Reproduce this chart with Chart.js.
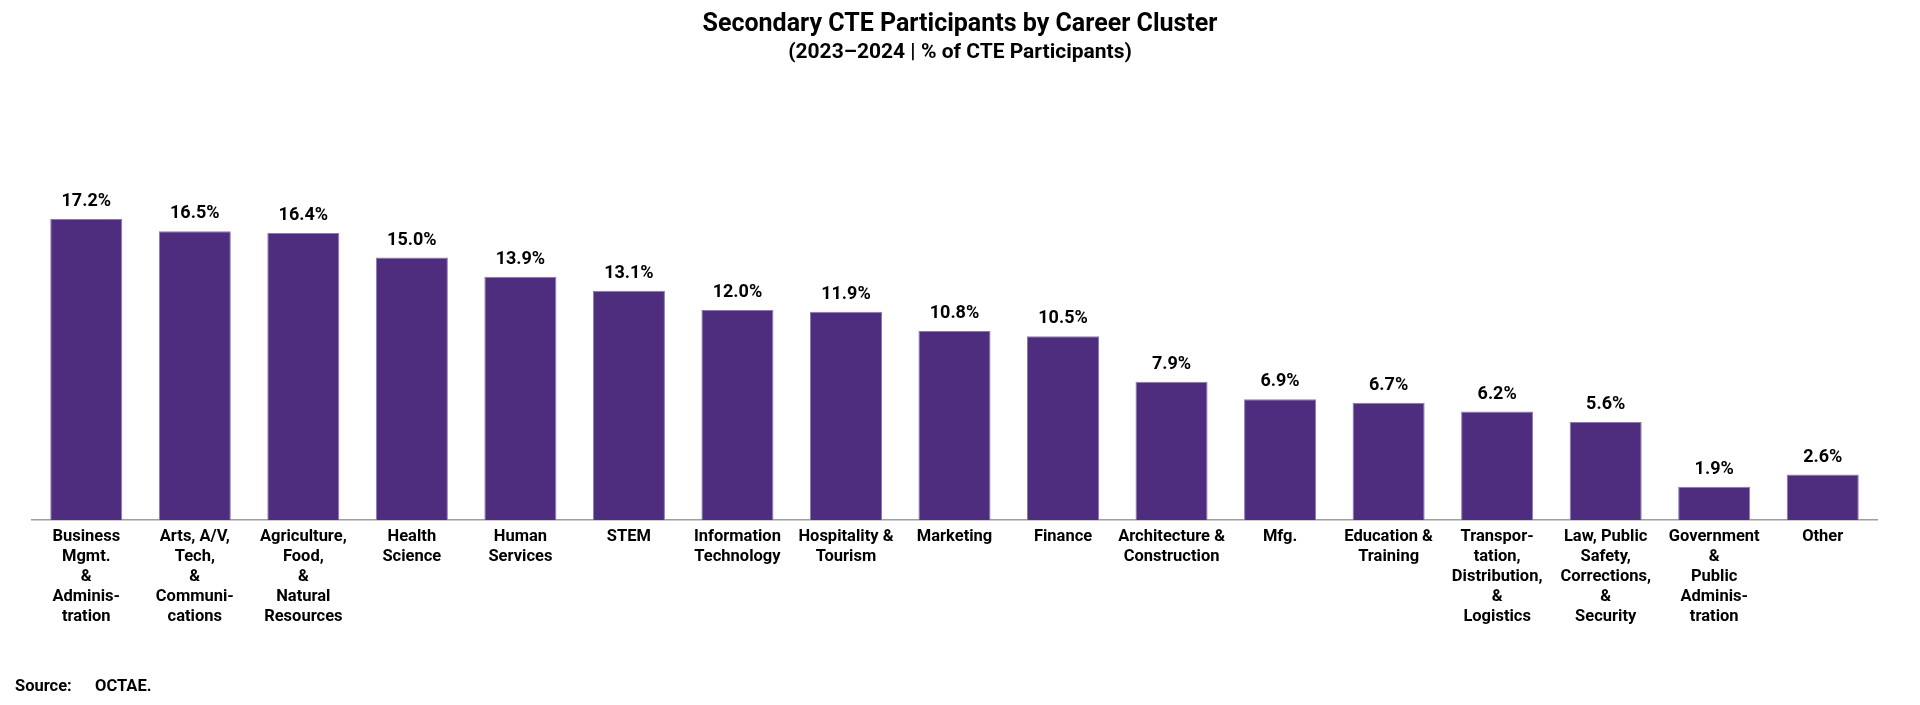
<!DOCTYPE html>
<html>
<head>
<meta charset="utf-8">
<script src="https://cdn.jsdelivr.net/npm/chart.js@4"></script>
<style>
  html, body { margin: 0; padding: 0; background: #fff; }
  #wrap { position: relative; width: 1920px; height: 705px; }
  canvas { display: block; }
  #source { position: absolute; left: 15px; top: 676px; font: bold 16.5px Roboto, sans-serif; color: #000; }
  #source span { display: inline-block; width: 80px; }
</style>
</head>
<body>
<div id="wrap">
  <canvas id="c" width="1920" height="705"></canvas>
  <div id="source"><span>Source:</span>OCTAE.</div>
</div>
<script>
const titleText = "Secondary CTE Participants by Career Cluster";
const subtitleText = "(2023\u20132024 | % of CTE Participants)";

const categories = [
  ["Business", "Mgmt.", "&", "Adminis-", "tration"],
  ["Arts, A/V,", "Tech,", "&", "Communi-", "cations"],
  ["Agriculture,", "Food,", "&", "Natural", "Resources"],
  ["Health", "Science"],
  ["Human", "Services"],
  ["STEM"],
  ["Information", "Technology"],
  ["Hospitality &", "Tourism"],
  ["Marketing"],
  ["Finance"],
  ["Architecture &", "Construction"],
  ["Mfg."],
  ["Education &", "Training"],
  ["Transpor-", "tation,", "Distribution,", "&", "Logistics"],
  ["Law, Public", "Safety,", "Corrections,", "&", "Security"],
  ["Government", "&", "Public", "Adminis-", "tration"],
  ["Other"]
];

const values = [17.2, 16.5, 16.4, 15.0, 13.9, 13.1, 12.0, 11.9, 10.8, 10.5, 7.9, 6.9, 6.7, 6.2, 5.6, 1.9, 2.6];

const textPlugin = {
  id: 'textPlugin',
  afterDraw(chart) {
    const ctx = chart.ctx;
    ctx.save();
    ctx.fillStyle = '#000';
    ctx.textAlign = 'center';
    ctx.textBaseline = 'alphabetic';
    ctx.font = 'bold 25px Roboto, sans-serif';
    ctx.fillText(titleText, 960, 31);
    ctx.font = 'bold 21px Roboto, sans-serif';
    ctx.fillText(subtitleText, 960, 58);
    const meta = chart.getDatasetMeta(0);
    ctx.font = 'bold 18px Roboto, sans-serif';
    meta.data.forEach((bar, i) => {
      ctx.fillText(values[i].toFixed(1) + '%', bar.x, bar.y - 13);
    });
    ctx.restore();
  }
};

new Chart(document.getElementById('c'), {
  type: 'bar',
  data: {
    labels: categories,
    datasets: [{
      data: values,
      backgroundColor: '#4E2D7E',
      borderColor: '#8E78B4',
      borderWidth: { top: 1, left: 1, right: 1, bottom: 0 },
      categoryPercentage: 1.0,
      barPercentage: 0.664
    }]
  },
  options: {
    responsive: false,
    animation: false,
    devicePixelRatio: 1,
    layout: { padding: { top: 170, left: 32, right: 43, bottom: 0 } },
    plugins: {
      legend: { display: false },
      title: { display: false },
      tooltip: { enabled: false }
    },
    scales: {
      x: {
        grid: { display: false, drawTicks: false },
        border: { display: true, color: '#9E9E9E', width: 1.5 },
        ticks: {
          color: '#000',
          font: { family: 'Roboto', weight: 'bold', size: 16.5, lineHeight: 1.21 },
          padding: 7,
          maxRotation: 0,
          minRotation: 0,
          autoSkip: false
        },
        afterFit(scale) { scale.height = 185; }
      },
      y: {
        display: false,
        min: 0,
        max: 20
      }
    }
  },
  plugins: [textPlugin]
});
</script>
</body>
</html>
